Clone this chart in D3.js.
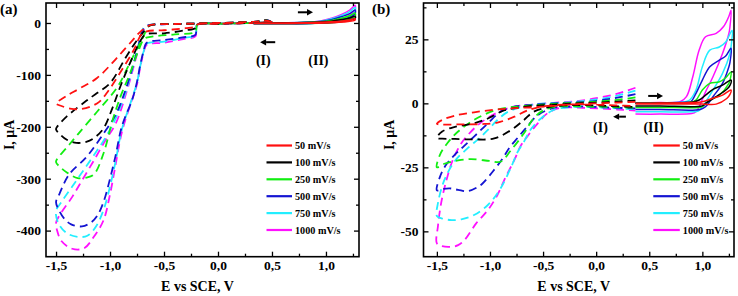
<!DOCTYPE html>
<html>
<head>
<meta charset="utf-8">
<script src="https://cdn.jsdelivr.net/npm/d3@7"></script>
<style>
  body { margin: 0; background: #fff; }
  svg { display: block; font-family: "Liberation Serif", "Times New Roman", serif; font-weight: bold; }
</style>
</head>
<body>
<svg id="chart" width="738" height="296"></svg>
<script>
// ======================
// DATA
// ======================

const rates = ["50 mV/s", "100 mV/s", "250 mV/s", "500 mV/s", "750 mV/s", "1000 mV/s"];
const rateColors = ["#ff1010", "#000000", "#11ee11", "#1414d2", "#22eeff", "#ff10ff"];

const xMajor = [-1.5, -1.0, -0.5, 0.0, 0.5, 1.0];
const xMinor = [-1.25, -0.75, -0.25, 0.25, 0.75, 1.25];
const yMajorA = [0, -100, -200, -300, -400];
const yMinorA = [-50, -150, -250, -350];
const yMajorB = [25, 0, -25, -50];
const yMinorB = [37.5, 12.5, -12.5, -37.5];

// panel (a), region I (dashed), [E, I]
const aDash50 = [[0.5,1.5],[0.45,4.5],[0.38,3],[0.2,1],[0,0],[-0.2,-1],[-0.4,-2],[-0.6,-3],[-0.64,-5],[-0.72,-17],[-0.79,-33],[-0.94,-68],[-1.12,-106],[-1.28,-126],[-1.4,-140],[-1.48,-151],[-1.5,-155],[-1.45,-160],[-1.37,-165],[-1.28,-166],[-1.18,-161],[-1.1,-152],[-1.03,-135],[-0.91,-97],[-0.78,-52],[-0.71,-22],[-0.66,-16],[-0.5,-14],[-0.3,-10],[-0.21,-7],[-0.19,-3],[0,-1.5],[0.2,-0.5],[0.4,0.5],[0.5,1.5]];
const aDash100 = [[0.5,1.5],[0.45,5],[0.38,3],[0.2,1],[0,0],[-0.2,-1],[-0.4,-2],[-0.6,-3],[-0.64,-6],[-0.7,-20],[-0.75,-33],[-0.85,-65],[-1.0,-116],[-1.12,-135],[-1.22,-150],[-1.4,-180],[-1.49,-200],[-1.5,-205],[-1.46,-215],[-1.4,-225],[-1.31,-231],[-1.22,-229],[-1.15,-222],[-1.06,-203],[-0.98,-165],[-0.9,-120],[-0.8,-70],[-0.72,-35],[-0.67,-22],[-0.5,-20],[-0.3,-14],[-0.21,-10],[-0.19,-3],[0,-1.5],[0.2,-0.5],[0.4,0.5],[0.5,1.5]];
const aDash250 = [[0.5,1.5],[0.45,5],[0.38,3],[0.2,1],[0,0],[-0.2,-1],[-0.4,-2],[-0.6,-3],[-0.64,-6],[-0.7,-30],[-0.78,-62],[-0.84,-87],[-0.93,-123],[-1.12,-171],[-1.3,-215],[-1.4,-240],[-1.49,-262],[-1.5,-268],[-1.45,-280],[-1.4,-288],[-1.3,-299],[-1.22,-298],[-1.15,-292],[-1.06,-251],[-0.98,-190],[-0.9,-140],[-0.82,-100],[-0.74,-55],[-0.68,-30],[-0.6,-26],[-0.4,-22],[-0.21,-17],[-0.19,-3],[0,-1.5],[0.2,-0.5],[0.4,0.5],[0.5,1.5]];
const aDash500 = [[0.5,1.5],[0.45,5.5],[0.38,3],[0.2,1],[0,0],[-0.2,-1],[-0.4,-2],[-0.6,-3],[-0.64,-4],[-0.69,-12],[-0.75,-55],[-0.85,-125],[-0.95,-178],[-1.05,-210],[-1.15,-240],[-1.23,-261],[-1.38,-292],[-1.47,-330],[-1.5,-345],[-1.47,-362],[-1.42,-378],[-1.36,-388],[-1.26,-392],[-1.18,-385],[-1.12,-372],[-1.06,-345],[-1.0,-300],[-0.95,-257],[-0.89,-199],[-0.79,-145],[-0.75,-113],[-0.72,-81],[-0.69,-55],[-0.66,-38],[-0.5,-33],[-0.3,-27],[-0.21,-23],[-0.19,-3],[0,-1.5],[0.2,-0.5],[0.4,0.5],[0.5,1.5]];
const aDash750 = [[0.5,1.5],[0.45,5.5],[0.38,3],[0.2,1],[0,0],[-0.2,-1],[-0.4,-2],[-0.6,-3],[-0.64,-4],[-0.69,-10],[-0.75,-55],[-0.85,-130],[-0.95,-185],[-1.04,-220],[-1.15,-255],[-1.25,-285],[-1.35,-315],[-1.45,-345],[-1.5,-362],[-1.48,-385],[-1.4,-405],[-1.3,-412],[-1.21,-410],[-1.13,-392],[-1.06,-360],[-1.0,-315],[-0.95,-268],[-0.89,-205],[-0.8,-148],[-0.75,-115],[-0.72,-83],[-0.69,-56],[-0.66,-40],[-0.5,-36],[-0.3,-28],[-0.21,-24],[-0.19,-3],[0,-1.5],[0.2,-0.5],[0.4,0.5],[0.5,1.5]];
const aDash1000 = [[0.5,1.5],[0.45,6],[0.38,3],[0.2,1],[0,0],[-0.2,-1],[-0.4,-2],[-0.6,-3],[-0.64,-4],[-0.69,-12],[-0.75,-60],[-0.85,-135],[-0.95,-195],[-1.04,-225],[-1.15,-265],[-1.25,-300],[-1.35,-335],[-1.45,-365],[-1.5,-385],[-1.49,-400],[-1.45,-420],[-1.35,-435],[-1.24,-434],[-1.15,-412],[-1.06,-380],[-1.0,-330],[-0.95,-275],[-0.89,-210],[-0.8,-150],[-0.75,-118],[-0.72,-85],[-0.69,-58],[-0.66,-42],[-0.5,-38],[-0.3,-30],[-0.21,-26],[-0.19,-3],[0,-1.5],[0.2,-0.5],[0.4,0.5],[0.5,1.5]];

// panel (a), region II (solid)
const aSolid50 = [[0.33,0],[0.6,0.2],[0.8,0.5],[0.95,1.2],[1.05,2.3],[1.15,4],[1.22,6],[1.27,8],[1.27,5.5],[1.22,3.5],[1.12,1.2],[1.0,0],[0.85,-0.6],[0.6,-0.8],[0.33,-0.8]];
const aSolid100 = [[0.33,0],[0.6,0.3],[0.8,0.7],[0.95,1.8],[1.05,3.5],[1.15,6.5],[1.22,9.5],[1.27,13],[1.27,9],[1.22,5.5],[1.12,2],[1.0,0.3],[0.85,-0.7],[0.6,-0.9],[0.33,-0.9]];
const aSolid250 = [[0.33,0],[0.6,0.3],[0.8,0.9],[0.95,2.3],[1.05,5],[1.15,9.5],[1.22,14],[1.27,19],[1.27,13],[1.22,8],[1.12,3],[1.0,0.5],[0.85,-0.8],[0.6,-1],[0.33,-1]];
const aSolid500 = [[0.33,0],[0.6,0.4],[0.8,1.1],[0.95,3],[1.05,6.5],[1.15,12.5],[1.22,18],[1.27,25],[1.27,18],[1.22,11],[1.12,4],[1.0,0.8],[0.85,-1],[0.6,-1.2],[0.33,-1.2]];
const aSolid750 = [[0.33,0],[0.6,0.5],[0.8,1.3],[0.95,3.5],[1.05,8],[1.15,15],[1.22,22],[1.27,30],[1.27,22],[1.22,13],[1.12,5],[1.0,1],[0.85,-1],[0.6,-1.3],[0.33,-1.3]];
const aSolid1000 = [[0.33,0],[0.6,0.5],[0.8,1.5],[0.95,4],[1.05,9],[1.15,17],[1.22,25],[1.27,34],[1.27,26],[1.22,15],[1.12,6],[1.0,1],[0.85,-1],[0.6,-1.5],[0.33,-1.5]];

// panel (b), region I (dashed)
const bDash50 = [[0.37,0.6],[0.2,0.3],[0,0],[-0.2,-0.3],[-0.4,-1],[-0.6,-1.5],[-0.8,-2],[-0.96,-2.5],[-1.15,-3.5],[-1.33,-4.8],[-1.45,-6.5],[-1.5,-8],[-1.45,-8.3],[-1.27,-8.2],[-1.08,-8.1],[-0.93,-7.5],[-0.77,-5.2],[-0.65,-2.8],[-0.5,-1.2],[-0.3,-0.5],[0,-0.5],[0.2,-0.8],[0.37,-1]];
const bDash100 = [[0.37,1.2],[0.2,0.7],[0,0.3],[-0.2,0],[-0.4,-0.5],[-0.6,-1],[-0.75,-1.8],[-0.87,-2.8],[-1.02,-5.9],[-1.15,-7.8],[-1.33,-9.2],[-1.45,-11],[-1.5,-13.5],[-1.45,-13.8],[-1.33,-13.9],[-1.15,-14.1],[-0.96,-13.7],[-0.8,-10.4],[-0.68,-6.5],[-0.59,-3.3],[-0.45,-1.5],[-0.3,-0.8],[0,-0.8],[0.2,-1.2],[0.37,-1.4]];
const bDash250 = [[0.37,2.3],[0.2,1.4],[0,0.7],[-0.2,0.2],[-0.4,-0.2],[-0.6,-0.8],[-0.8,-1.5],[-0.96,-2.8],[-1.15,-6.5],[-1.3,-11],[-1.4,-15.5],[-1.47,-20],[-1.5,-25],[-1.43,-23.6],[-1.3,-22.3],[-1.18,-21.8],[-1.0,-22.5],[-0.9,-22.8],[-0.8,-18.2],[-0.68,-11.7],[-0.59,-5.9],[-0.49,-2.6],[-0.35,-1.2],[-0.1,-1.2],[0.2,-1.5],[0.37,-1.7]];
const bDash500 = [[0.37,3.6],[0.2,2.2],[0,1],[-0.2,0.3],[-0.4,0],[-0.6,-0.6],[-0.77,-1.3],[-0.9,-3.3],[-1.02,-7.8],[-1.15,-13],[-1.24,-16.5],[-1.33,-20],[-1.41,-23.8],[-1.47,-28.6],[-1.5,-34],[-1.45,-33.5],[-1.38,-33.2],[-1.3,-33.8],[-1.21,-34.3],[-1.12,-32.8],[-1.07,-31.3],[-0.975,-26.7],[-0.88,-21.5],[-0.82,-17.5],[-0.74,-13.5],[-0.65,-9.1],[-0.55,-4.6],[-0.4,-1.8],[-0.2,-1.2],[0.1,-1.6],[0.37,-2]];
const bDash750 = [[0.37,5],[0.2,3],[0,1.5],[-0.2,0.6],[-0.4,0.1],[-0.6,-0.5],[-0.83,-3.3],[-0.93,-6.5],[-1.02,-10.4],[-1.11,-14],[-1.21,-17.5],[-1.33,-22.5],[-1.43,-30],[-1.49,-39],[-1.5,-44],[-1.45,-45],[-1.36,-45.6],[-1.27,-45.3],[-1.15,-43.6],[-1.02,-39.7],[-0.91,-33.9],[-0.8,-24.8],[-0.74,-19],[-0.68,-15],[-0.62,-10.4],[-0.52,-5.9],[-0.4,-2.6],[-0.25,-1.5],[0,-1.5],[0.2,-2],[0.37,-2.3]];
const bDash1000 = [[0.37,6.1],[0.2,3.8],[0,2],[-0.2,0.8],[-0.4,0.2],[-0.6,-0.5],[-0.8,-1.5],[-0.95,-4],[-1.1,-8],[-1.2,-12],[-1.27,-15.6],[-1.35,-22.1],[-1.41,-30],[-1.46,-39],[-1.49,-48],[-1.5,-54.7],[-1.45,-55.8],[-1.36,-56],[-1.3,-55.4],[-1.24,-53.4],[-1.13,-46.9],[-1.02,-41.7],[-0.93,-35.8],[-0.85,-28.6],[-0.77,-22.1],[-0.71,-16.5],[-0.65,-13],[-0.55,-7.8],[-0.46,-3.9],[-0.34,-1.8],[-0.1,-1.8],[0.2,-2.4],[0.37,-2.8]];

// panel (b), region II (solid)
const bSolid50 = [[0.37,0],[0.6,0.1],[0.9,0.3],[1.0,0.6],[1.1,2],[1.19,3.2],[1.27,5.2],[1.26,3.5],[1.23,1.9],[1.13,-0.3],[1.0,-0.3],[0.6,-0.3],[0.37,-0.3]];
const bSolid100 = [[0.37,0],[0.6,0.1],[0.9,0.4],[0.97,1.3],[1.03,3.2],[1.1,5.5],[1.19,7.1],[1.27,9.1],[1.26,7],[1.23,5.5],[1.13,2.6],[1.03,0],[1.0,-1],[0.6,-1],[0.37,-1]];
const bSolid250 = [[0.37,0],[0.6,0.1],[0.88,0.3],[0.94,1.3],[1.0,5.2],[1.07,7.8],[1.16,8.4],[1.22,10],[1.27,12.3],[1.26,9],[1.25,7.8],[1.16,3.2],[1.07,1.3],[1.0,-1.3],[0.97,-1.6],[0.6,-1.6],[0.37,-1.6]];
const bSolid500 = [[0.37,0.1],[0.6,0.2],[0.84,0.4],[0.89,0.6],[0.94,3.9],[1.0,9.1],[1.07,14.3],[1.16,16.9],[1.22,18.5],[1.27,21.5],[1.26,16],[1.25,14.3],[1.19,7.8],[1.1,2.6],[1.03,-1.3],[0.98,-2.4],[0.6,-2.4],[0.37,-2.4]];
const bSolid750 = [[0.37,0.1],[0.6,0.2],[0.82,0.5],[0.88,1.3],[0.94,5.2],[1.0,14.3],[1.07,20.8],[1.16,22],[1.22,24],[1.28,28.5],[1.27,22],[1.26,19.5],[1.19,11.7],[1.1,5.2],[1.0,-1.3],[0.96,-3],[0.9,-3.3],[0.6,-3.3],[0.37,-3.3]];
const bSolid1000 = [[0.37,0.2],[0.6,0.3],[0.79,0.6],[0.85,2.6],[0.91,10.4],[0.97,20.8],[1.03,26],[1.13,27.3],[1.2,30],[1.25,34],[1.27,36.4],[1.26,30],[1.25,27.3],[1.19,19.5],[1.1,10.4],[1.03,4.5],[0.97,-1.3],[0.94,-3.3],[0.9,-4],[0.6,-4.2],[0.37,-4.2]];

// annotations, in data units: [E, I]
const aArrowRight = [[0.74, 20.6], [0.88, 20.6]];
const aArrowLeft = [[0.53, -37], [0.39, -37]];
const aRegionLabels = [["(I)", 0.42, -71], ["(II)", 0.93, -71]];
const bArrowRight = [[0.49, 2.9], [0.63, 2.9]];
const bArrowLeft = [[0.28, -5.2], [0.16, -5.2]];
const bRegionLabels = [["(I)", 0.04, -9.1], ["(II)", 0.54, -9.1]];

// ======================
// SETUP
// ======================

const svg = d3.select("#chart");
const fontFamily = '"Liberation Serif", "Times New Roman", serif';

const locale = d3.formatLocale({
    decimal: ",", thousands: ".", grouping: [3], currency: ["", ""], minus: "-"
});
const fmtX = locale.format(".1f");
const fmtY = locale.format("d");

function styleAxis(axisG, size) {
    axisG.select(".domain").remove();
    axisG.attr("font-family", fontFamily)
        .attr("font-size", size)
        .attr("font-weight", "bold");
    axisG.selectAll("line").attr("stroke-width", 1.3);
}

function drawArrow(g, x, y, pts) {
    const x0 = x(pts[0][0]), x1 = x(pts[1][0]), yy = y(pts[0][1]);
    const dir = x1 > x0 ? 1 : -1;
    const head = 6;
    g.append("line")
        .attr("x1", x0).attr("x2", x1 - dir * head)
        .attr("y1", yy).attr("y2", yy)
        .attr("stroke", "#000").attr("stroke-width", 2);
    g.append("path")
        .attr("d", `M${x1},${yy} L${x1 - dir * head},${yy - 3.2} L${x1 - dir * head},${yy + 3.2} Z`)
        .attr("fill", "#000");
}

// ======================
// PANEL
// ======================

function drawPanel(p) {
    const g = svg.append("g");

    const x = d3.scaleLinear().domain(p.xDomain).range([p.left, p.right]);
    const y = d3.scaleLinear().domain(p.yDomain).range([p.bottom, p.top]);

    const clipId = "clip-" + p.id;
    g.append("clipPath").attr("id", clipId)
        .append("rect")
        .attr("x", p.left).attr("y", p.top)
        .attr("width", p.right - p.left).attr("height", p.bottom - p.top);

    const lineGen = d3.line()
        .x(d => x(d[0]))
        .y(d => y(d[1]))
        .curve(d3.curveCatmullRom.alpha(0.5));

    const curves = g.append("g").attr("clip-path", `url(#${clipId})`);

    // draw biggest first so red sits on top
    for (let i = rates.length - 1; i >= 0; i--) {
        curves.append("path")
            .attr("d", lineGen(p.dashed[i]))
            .attr("fill", "none")
            .attr("stroke", rateColors[i])
            .attr("stroke-width", 1.8)
            .attr("stroke-dasharray", "8,5");
    }
    for (let i = rates.length - 1; i >= 0; i--) {
        curves.append("path")
            .attr("d", lineGen(p.solid[i]))
            .attr("fill", "none")
            .attr("stroke", rateColors[i])
            .attr("stroke-width", 1.5);
    }

    // axes, ticks pointing inwards
    const bottomAxis = g.append("g").attr("transform", `translate(0,${p.bottom})`)
        .call(d3.axisBottom(x).tickValues(xMajor).tickSize(-5).tickPadding(4).tickFormat(fmtX));
    styleAxis(bottomAxis, 13.5);
    styleAxis(g.append("g").attr("transform", `translate(0,${p.bottom})`)
        .call(d3.axisBottom(x).tickValues(xMinor).tickSize(-3).tickFormat("")), 10);
    styleAxis(g.append("g").attr("transform", `translate(0,${p.top})`)
        .call(d3.axisTop(x).tickValues(xMajor).tickSize(-5).tickFormat("")), 10);
    styleAxis(g.append("g").attr("transform", `translate(0,${p.top})`)
        .call(d3.axisTop(x).tickValues(xMinor).tickSize(-3).tickFormat("")), 10);

    const leftAxis = g.append("g").attr("transform", `translate(${p.left},0)`)
        .call(d3.axisLeft(y).tickValues(p.yMajor).tickSize(-5).tickPadding(5).tickFormat(fmtY));
    styleAxis(leftAxis, 13.5);
    styleAxis(g.append("g").attr("transform", `translate(${p.left},0)`)
        .call(d3.axisLeft(y).tickValues(p.yMinor).tickSize(-3).tickFormat("")), 10);
    styleAxis(g.append("g").attr("transform", `translate(${p.right},0)`)
        .call(d3.axisRight(y).tickValues(p.yMajor).tickSize(-5).tickFormat("")), 10);
    styleAxis(g.append("g").attr("transform", `translate(${p.right},0)`)
        .call(d3.axisRight(y).tickValues(p.yMinor).tickSize(-3).tickFormat("")), 10);

    g.append("rect")
        .attr("x", p.left).attr("y", p.top)
        .attr("width", p.right - p.left).attr("height", p.bottom - p.top)
        .attr("fill", "none").attr("stroke", "#000").attr("stroke-width", 1.6);

    // axis titles
    g.append("text")
        .attr("x", (p.left + p.right) / 2 - 5).attr("y", 291)
        .attr("text-anchor", "middle")
        .attr("font-size", 14)
        .text("E vs SCE, V");

    g.append("text")
        .attr("transform", `translate(${p.yTitleX},${(p.top + p.bottom) / 2 + 5}) rotate(-90)`)
        .attr("text-anchor", "middle")
        .attr("font-size", 14)
        .text("I, μA");

    g.append("text")
        .attr("x", p.tagX).attr("y", 14)
        .attr("font-size", 15)
        .text(p.tag);

    // arrows and region labels
    drawArrow(g, x, y, p.arrowRight);
    drawArrow(g, x, y, p.arrowLeft);
    g.selectAll("text.region").data(p.regionLabels).enter()
        .append("text")
        .attr("class", "region")
        .attr("x", d => x(d[1]))
        .attr("y", d => y(d[2]))
        .attr("dy", "0.35em")
        .attr("text-anchor", "middle")
        .attr("font-size", 14)
        .text(d => d[0]);

    // legend
    const legend = g.append("g");
    rates.forEach((r, i) => {
        const ly = 145.5 + i * 16.9;
        legend.append("line")
            .attr("x1", p.legendX).attr("x2", p.legendX + p.legendLen)
            .attr("y1", ly).attr("y2", ly)
            .attr("stroke", rateColors[i]).attr("stroke-width", 2.2);
        legend.append("text")
            .attr("x", p.legendX + p.legendLen + 3).attr("y", ly)
            .attr("dy", "0.35em")
            .attr("font-size", 10.2)
            .text(r);
    });
}

drawPanel({
    id: "a", tag: "(a)", tagX: 0,
    left: 46, right: 359, top: 3, bottom: 256.7,
    xDomain: [-1.593, 1.306], yDomain: [-450.3, 38.5],
    yMajor: yMajorA, yMinor: yMinorA, yTitleX: 14,
    dashed: [aDash50, aDash100, aDash250, aDash500, aDash750, aDash1000],
    solid: [aSolid50, aSolid100, aSolid250, aSolid500, aSolid750, aSolid1000],
    arrowRight: aArrowRight, arrowLeft: aArrowLeft, regionLabels: aRegionLabels,
    legendX: 266.5, legendLen: 25.5
});

drawPanel({
    id: "b", tag: "(b)", tagX: 372,
    left: 423.5, right: 734, top: 3, bottom: 256.7,
    xDomain: [-1.626, 1.298], yDomain: [-59.9, 39.2],
    yMajor: yMajorB, yMinor: yMinorB, yTitleX: 394,
    dashed: [bDash50, bDash100, bDash250, bDash500, bDash750, bDash1000],
    solid: [bSolid50, bSolid100, bSolid250, bSolid500, bSolid750, bSolid1000],
    arrowRight: bArrowRight, arrowLeft: bArrowLeft, regionLabels: bRegionLabels,
    legendX: 653.3, legendLen: 26.5
});
</script>
</body>
</html>
